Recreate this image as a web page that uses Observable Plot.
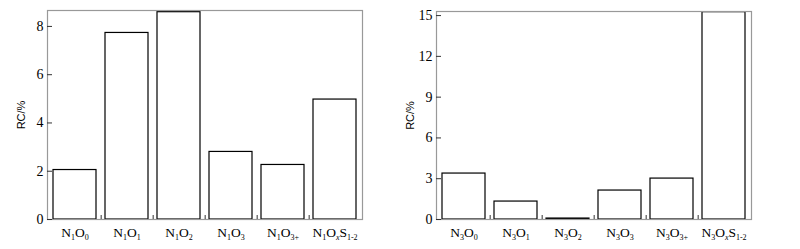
<!DOCTYPE html>
<html>
<head>
<meta charset="utf-8">
<script src="https://cdn.jsdelivr.net/npm/d3@7"></script>
<script src="https://cdn.jsdelivr.net/npm/@observablehq/plot@0.6"></script>
<style>
  html, body { margin: 0; padding: 0; background: #fff; }
  #wrap { display: flex; width: 800px; height: 249px; }
  #wrap > div { width: 400px; height: 249px; }
  svg text { font-family: "Liberation Serif", "Times New Roman", serif; }
</style>
</head>
<body>
<div id="wrap"><div id="left"></div><div id="right"></div></div>
<script>
// ---- data ----
const categoriesLeft = ["N1O0", "N1O1", "N1O2", "N1O3", "N1O3+", "N1OxS1-2"];
const valuesLeft = [2.05, 7.73, 8.59, 2.80, 2.26, 4.97];
const categoriesRight = ["N3O0", "N3O1", "N3O2", "N3O3", "N3O3+", "N3OxS1-2"];
const valuesRight = [3.38, 1.32, 0.07, 2.13, 3.01, 15.25];
const yTicksLeft = [0, 2, 4, 6, 8];
const yTicksRight = [0, 3, 6, 9, 12, 15];
const yMaxLeft = 8.66;
const yMaxRight = 15.3;
const yLabel = "RC/%";

function makeChart(cats, vals, yTicks, yMax, margins) {
  const data = cats.map((c, i) => ({cat: c, val: vals[i]}));
  const W = 400, H = 249;
  const pInner = 0.18, pOuter = 0.1;
  const step = (W - margins.left - margins.right) / (cats.length - pInner + 2 * pOuter);
  const plot = Plot.plot({
    width: W, height: H,
    marginLeft: margins.left, marginRight: margins.right,
    marginTop: margins.top, marginBottom: margins.bottom,
    style: {fontSize: "13px", color: "#000", background: "#fff"},
    x: {domain: cats, paddingInner: pInner, paddingOuter: pOuter, axis: null},
    y: {domain: [0, yMax], axis: null},
    marks: [
      Plot.barY(data, {x: "cat", y: "val", fill: "white", stroke: "#000", strokeWidth: 1.2}),
      Plot.frame({stroke: "#999", strokeWidth: 1.2}),
      Plot.axisY({ticks: yTicks, tickSize: -5, tickPadding: 9, stroke: "#333",
        label: yLabel, labelArrow: "none", labelAnchor: "center", labelOffset: margins.labelOffset}),
      Plot.axisX({ticks: cats, tickSize: 0, tickPadding: 8, label: null}),
      Plot.axisX({ticks: cats.slice(0, cats.length - 1), tickSize: -4, stroke: "#333",
        tickFormat: () => "", label: null, dx: step / 2})
    ]
  });
  const svg = d3.select(plot);
  // y tick labels
  svg.selectAll('g[aria-label="y-axis tick label"] text').style("font-size", "14px");
  // y label
  svg.selectAll('g[aria-label="y-axis label"] text')
    .text(yLabel)
    .style("font-family", "'Liberation Sans', Arial, sans-serif")
    .style("font-size", "11px");
  // subscript formatting of x tick labels
  svg.selectAll('g[aria-label="x-axis tick label"] text').each(function() {
    const t = d3.select(this);
    const s = t.text();
    if (!s) return;
    t.text(null).style("font-size", "13.5px");
    const tokens = s.match(/[A-Z]|[^A-Z]+/g);
    let inSub = false;
    tokens.forEach(tok => {
      const sub = !/^[A-Z]$/.test(tok);
      const ts = t.append("tspan").text(tok);
      if (sub) {
        ts.style("font-size", "8px");
        if (!inSub) ts.attr("dy", 3);
        if (tok === "x") ts.style("font-style", "italic");
        inSub = true;
      } else {
        if (inSub) ts.attr("dy", -3);
        inSub = false;
      }
    });
  });
  return plot;
}

document.getElementById("left").appendChild(
  makeChart(categoriesLeft, valuesLeft, yTicksLeft, yMaxLeft, {left: 47, right: 38, top: 10, bottom: 30, labelOffset: 30}));
document.getElementById("right").appendChild(
  makeChart(categoriesRight, valuesRight, yTicksRight, yMaxRight, {left: 36, right: 49, top: 11, bottom: 30, labelOffset: 30}));
</script>
</body>
</html>
